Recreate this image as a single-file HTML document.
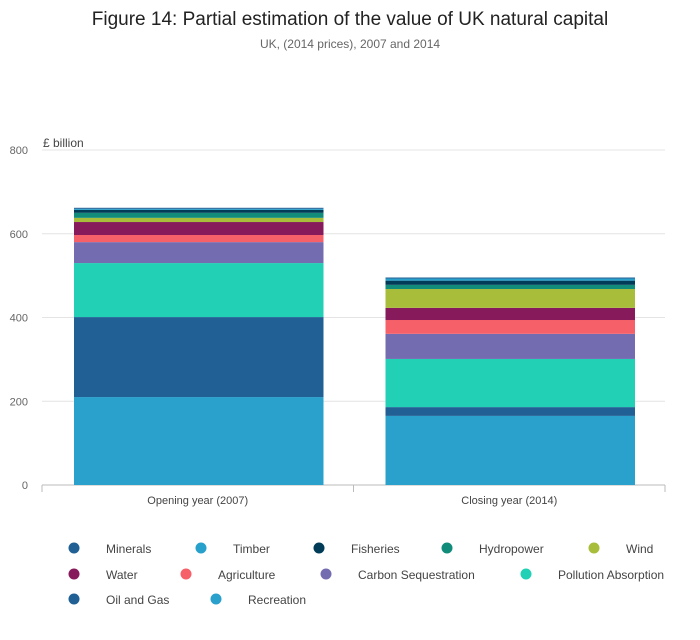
<!DOCTYPE html>
<html><head><meta charset="utf-8"><style>
body{margin:0;background:#fff;font-family:"Liberation Sans",sans-serif;}
svg text{font-family:"Liberation Sans",sans-serif;}
</style></head><body>
<svg width="700" height="635">
<text x="350" y="25" text-anchor="middle" font-size="19" fill="#222">Figure 14: Partial estimation of the value of UK natural capital</text>
<text x="350" y="48" text-anchor="middle" font-size="12" fill="#666">UK, (2014 prices), 2007 and 2014</text>
<text x="43" y="147" font-size="12" fill="#444">£ billion</text>
<g id="grid"></g><g id="bars"></g><g id="legend"></g>
</svg>
<script>
const categories=["Opening year (2007)","Closing year (2014)"];
const seriesNames=["Recreation","Oil and Gas","Pollution Absorption","Carbon Sequestration","Agriculture","Water","Wind","Hydropower","Fisheries","Timber","Minerals"];
const recreation=[210,165];
const oilGas=[191,21];
const pollution=[129,115];
const carbon=[50,60];
const agriculture=[17,33];
const water=[31,29];
const wind=[10,45];
const hydro=[12,10];
const fisheries=[7,10];
const timber=[2.5,5];
const minerals=[2.5,2.5];
const yTicks=[0,200,400,600,800];
const colors=["#2aa0cd","#206095","#22d0b6","#746cb1","#f66068","#871a5b","#a8bd3a","#118c7b","#003c57","#27a0cc","#206095"];
const series=[recreation,oilGas,pollution,carbon,agriculture,water,wind,hydro,fisheries,timber,minerals];
const NS="http://www.w3.org/2000/svg";
const y=v=>485-v*335/800;
const x0=42,x1=665,band=(x1-x0)/categories.length;
const grid=document.getElementById('grid');
function mk(tag,attrs,parent){const e=document.createElementNS(NS,tag);for(const k in attrs)e.setAttribute(k,attrs[k]);parent.appendChild(e);return e;}
yTicks.forEach(t=>{
  const l=mk('line',{x1:x0,x2:x1,y1:y(t),y2:y(t),stroke:t===0?'#bbb':'#e4e4e4'},grid);
  
  
  const tx=mk('text',{x:28,y:y(t)+4,'text-anchor':'end','font-size':11,fill:'#666'},grid);
  tx.textContent=t;
  
  
});
[x0,x0+band,x1].forEach(px=>{mk('line',{x1:px,x2:px,y1:485,y2:492,stroke:'#bbb'},grid);});
const bars=document.getElementById('bars');
categories.forEach((c,i)=>{
  const bx=x0+band*i+32,bw=band-62;let cum=0;
  series.forEach((s,j)=>{
    const r=mk('rect',{x:bx,width:bw,y:y(cum+s[i]),height:y(cum)-y(cum+s[i]),fill:colors[j]},bars);
    
    
    cum+=s[i];
  });
  const t=mk('text',{x:x0+band*i+band/2,y:504,'text-anchor':'middle','font-size':11,fill:'#444'},bars);
  t.textContent=c;
  
  
});
const legendItems=[["Minerals",10,74,549],["Timber",9,201,549],["Fisheries",8,319,549],["Hydropower",7,447,549],["Wind",6,594,549],
["Water",5,74,575],["Agriculture",4,186,575],["Carbon Sequestration",3,326,575],["Pollution Absorption",2,526,575],
["Oil and Gas",1,74,600],["Recreation",0,216,600]];
const lg=document.getElementById('legend');
legendItems.forEach(([n,ci,cx,cy])=>{
  const g=mk('g',{},lg);
  
  
  mk('circle',{cx:cx,cy:cy-1,r:5.5,fill:colors[ci]},g);
  const t=mk('text',{x:cx+32,y:cy+4,'font-size':12,fill:'#444'},g);
  t.textContent=n;
});
</script>
</body></html>
